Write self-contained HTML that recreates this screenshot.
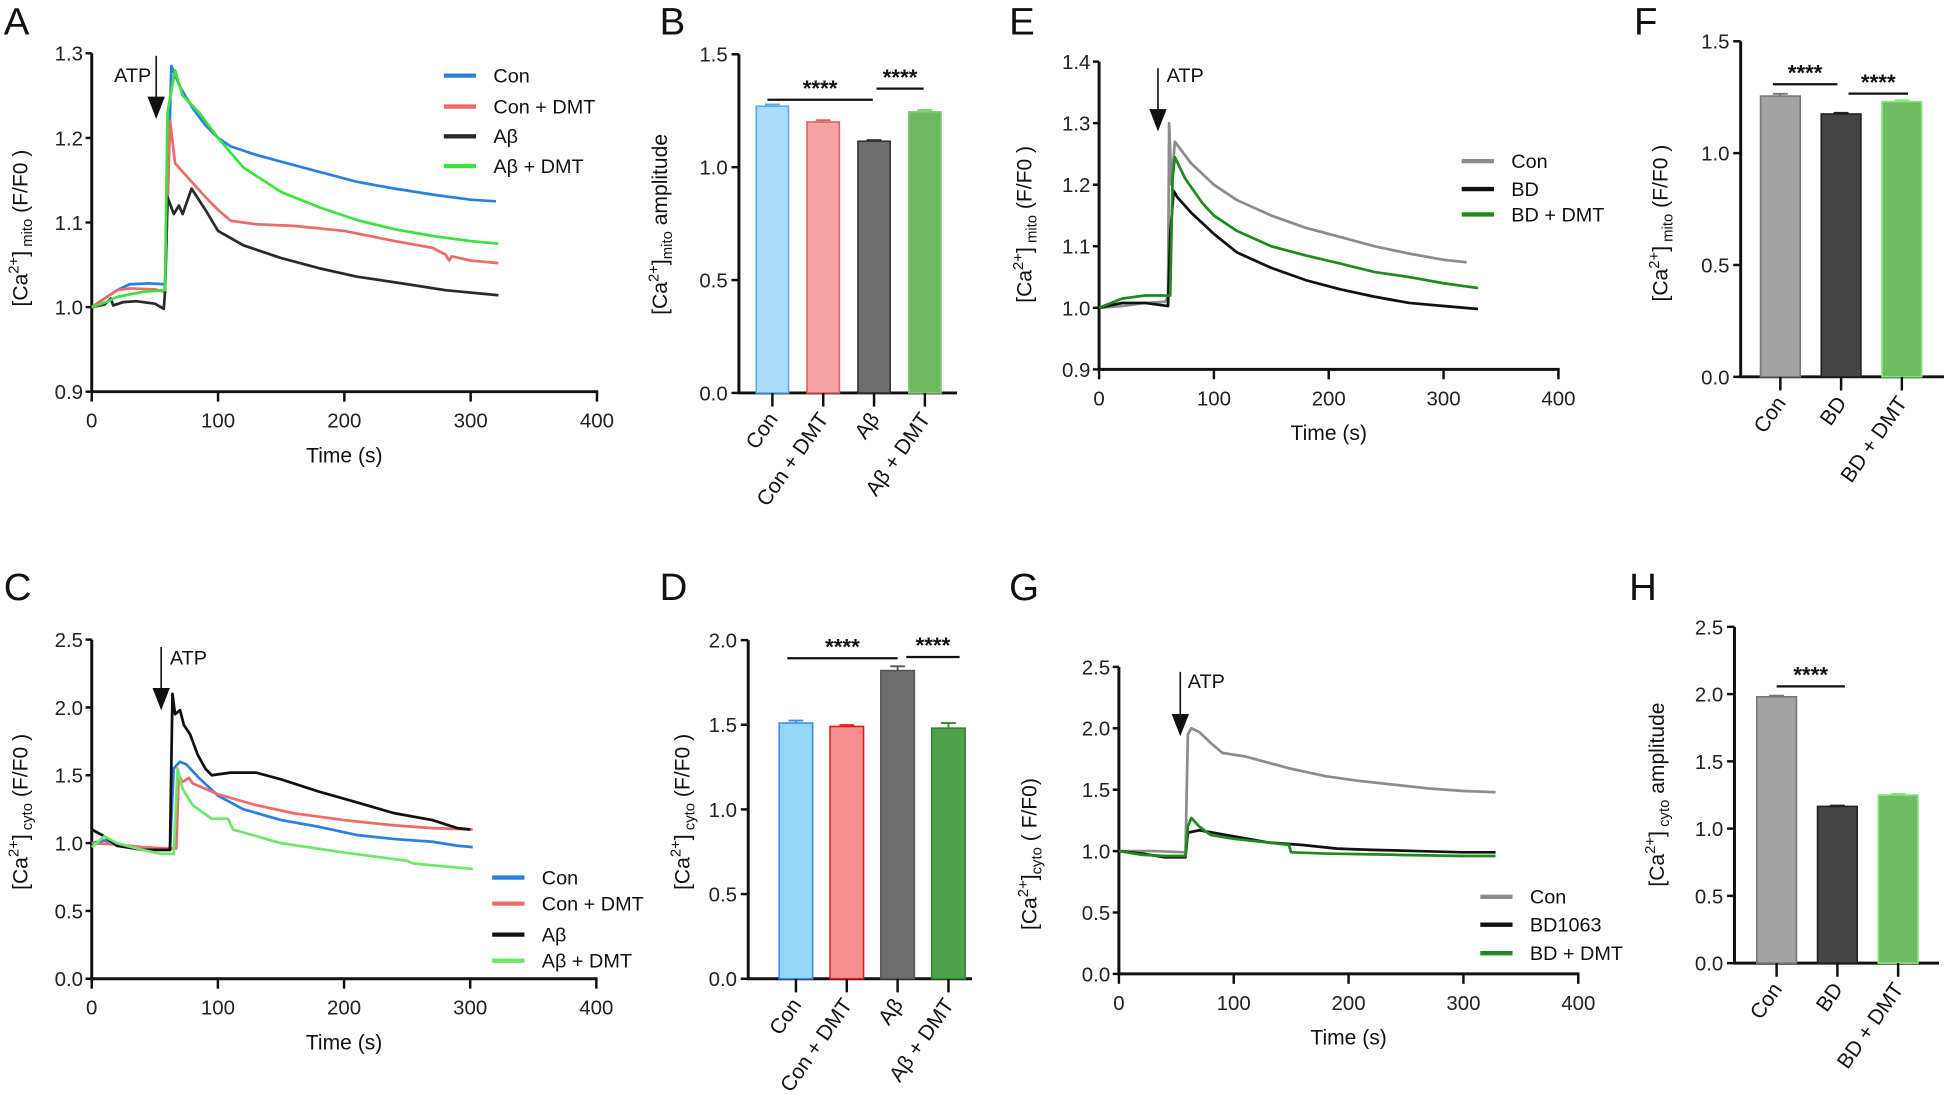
<!DOCTYPE html>
<html><head><meta charset="utf-8">
<style>
html,body{margin:0;padding:0;background:#fff;}
svg{display:block;font-family:"Liberation Sans",Arial,sans-serif;}
</style></head>
<body>
<svg id="fig" xmlns="http://www.w3.org/2000/svg" width="1944" height="1097" viewBox="0 0 1568 885" preserveAspectRatio="none"></svg>
<script>
// ---------- DATA ----------
const aConT=[0,10,20,30,45,58,60,63,70,80,90,100,110,130,150,180,210,240,270,300,320];
const aConV=[1.0,1.01,1.02,1.027,1.028,1.027,1.12,1.285,1.26,1.235,1.215,1.2,1.19,1.18,1.172,1.16,1.148,1.14,1.133,1.127,1.125];
const aConDmtT=[0,10,20,30,50,58,60,62,66,75,90,100,110,130,160,200,240,270,280,283,285,300,322];
const aConDmtV=[1.0,1.01,1.02,1.022,1.021,1.018,1.12,1.22,1.17,1.155,1.13,1.115,1.102,1.098,1.096,1.09,1.078,1.07,1.062,1.055,1.06,1.055,1.052];
const aAbT=[0,10,15,17,25,35,50,57,58,60,65,69,72,79,90,100,120,150,180,210,250,280,322];
const aAbV=[1.0,1.003,1.01,1.002,1.006,1.007,1.004,0.998,1.018,1.13,1.11,1.12,1.11,1.14,1.115,1.09,1.073,1.058,1.046,1.036,1.027,1.02,1.014];
const aAbDmtT=[0,10,20,40,58,60,66,72,85,100,120,150,180,210,240,270,300,322];
const aAbDmtV=[1.0,1.005,1.012,1.018,1.02,1.23,1.28,1.25,1.23,1.2,1.165,1.136,1.118,1.103,1.092,1.084,1.078,1.075];
const bCats=["Con","Con + DMT","Aβ","Aβ + DMT"];
const bVals=[1.27,1.20,1.115,1.245];
const bErr=[0.008,0.008,0.005,0.008];
const cConT=[0,10,30,55,62,65,70,75,85,100,120,150,180,210,240,270,290,302];
const cConV=[1.0,1.02,0.97,0.95,0.95,1.55,1.6,1.58,1.48,1.35,1.25,1.17,1.12,1.06,1.03,1.01,0.98,0.97];
const cConDmtT=[0,20,40,60,67,69,72,77,80,100,130,160,200,240,270,302];
const cConDmtV=[1.0,0.99,0.97,0.96,0.96,1.5,1.45,1.48,1.44,1.36,1.28,1.22,1.17,1.13,1.11,1.1];
const cAbT=[0,10,20,40,62,64,66,70,73,78,84,90,95,110,130,150,180,210,240,270,290,300];
const cAbV=[1.1,1.05,0.98,0.95,0.95,2.1,1.95,1.98,1.87,1.8,1.65,1.55,1.5,1.52,1.52,1.47,1.38,1.3,1.22,1.17,1.11,1.1];
const cAbDmtT=[0,10,20,40,55,65,68,72,80,95,108,112,150,200,250,255,302];
const cAbDmtV=[0.97,1.05,1.0,0.95,0.92,0.92,1.55,1.4,1.28,1.18,1.18,1.1,1.0,0.93,0.87,0.85,0.81];
const dCats=["Con","Con + DMT","Aβ","Aβ + DMT"];
const dVals=[1.51,1.49,1.82,1.48];
const dErr=[0.015,0.008,0.025,0.03];
const eConT=[0,20,40,58,60,61,63,66,80,100,120,150,180,210,240,270,300,320];
const eConV=[1.0,1.003,1.008,1.01,1.02,1.3,1.2,1.27,1.235,1.2,1.175,1.15,1.13,1.115,1.1,1.088,1.078,1.074];
const eBdT=[0,20,40,60,62,65,68,80,100,120,150,180,210,240,270,300,330];
const eBdV=[1.0,1.008,1.008,1.003,1.12,1.19,1.18,1.155,1.12,1.09,1.065,1.045,1.03,1.018,1.008,1.003,0.998];
const eBdDmtT=[0,20,40,60,62,64,66,75,90,100,120,150,180,210,240,270,300,330];
const eBdDmtV=[1.0,1.015,1.02,1.02,1.02,1.21,1.245,1.21,1.17,1.15,1.125,1.1,1.085,1.072,1.058,1.05,1.04,1.032];
const fCats=["Con","BD","BD + DMT"];
const fVals=[1.255,1.175,1.23];
const fErr=[0.01,0.005,0.006];
const gConT=[0,30,58,60,63,70,80,90,110,130,150,180,210,240,270,300,328];
const gConV=[1.0,1.0,0.99,1.95,2.0,1.97,1.88,1.8,1.77,1.72,1.67,1.61,1.57,1.54,1.51,1.49,1.48];
const gBdT=[0,20,40,58,60,70,100,130,160,190,220,260,300,328];
const gBdV=[1.0,0.98,0.95,0.95,1.15,1.17,1.12,1.07,1.05,1.02,1.01,1.0,0.99,0.99];
const gBdDmtT=[0,20,40,58,60,63,70,80,100,130,148,150,180,240,300,328];
const gBdDmtV=[1.0,0.97,0.96,0.96,1.2,1.27,1.2,1.13,1.1,1.07,1.05,0.99,0.98,0.97,0.96,0.96];
const hCats=["Con","BD","BD + DMT"];
const hVals=[1.98,1.165,1.25];
const hErr=[0.008,0.006,0.008];
const xTicks=[0,100,200,300,400];
const ticksA=[0.9,1.0,1.1,1.2,1.3];
const ticksE=[0.9,1.0,1.1,1.2,1.3,1.4];
const ticksC=[0,0.5,1.0,1.5,2.0,2.5];
const ticksB=[0,0.5,1.0,1.5];
const ticksD=[0,0.5,1.0,1.5,2.0];

// ---------- DRAWING ----------
const NS='http://www.w3.org/2000/svg';
const svg=document.getElementById('fig');
function mk(tag,attrs,parent){const e=document.createElementNS(NS,tag);for(const k in attrs)e.setAttribute(k,attrs[k]);(parent||svg).appendChild(e);return e;}
function fmt(v){return v.toFixed(1);}
function ylabel(g,x,y,sub,tail){
  const t=mk('text',{x:x,y:y,'font-size':17,'text-anchor':'middle',transform:'rotate(-90 '+x+' '+y+')',fill:'#111'},g);
  
  
  const a=mk('tspan',{},t);a.textContent='[Ca';
  const b=mk('tspan',{'font-size':12,dy:-7},t);b.textContent='2+';
  const c=mk('tspan',{dy:7},t);c.textContent=']';
  const d=mk('tspan',{'font-size':12,dy:4},t);d.textContent=sub;
  const e=mk('tspan',{dy:-4},t);e.textContent=tail;
}
function letter(ch,x,y){
  const t=mk('text',{x:x,y:y,'font-size':31,fill:'#111'});
  
  
  t.textContent=ch;
}
function linePanel(p){
  const g=mk('g',{});
  
  
  const sx=t=>p.xL+(p.xR-p.xL)*t/400;
  const sy=v=>p.yB-(p.yB-p.yT)*(v-p.ymin)/(p.ymax-p.ymin);
  const ya=mk('line',{x1:p.xL,y1:p.yT,x2:p.xL,y2:p.yB,stroke:'#111','stroke-width':2.4},g);
  
  
  const xa=mk('line',{x1:p.xL-1,y1:p.yB,x2:p.xR+1,y2:p.yB,stroke:'#111','stroke-width':2.4},g);
  
  
  p.yticks.forEach(v=>{
    const y=sy(v);
    const tk=mk('line',{x1:p.xL-5,y1:y,x2:p.xL,y2:y,stroke:'#111','stroke-width':2},g);
    
    
    const tl=mk('text',{x:p.xL-7,y:y+6,'font-size':16.5,'text-anchor':'end',fill:'#222'},g);
    
    
    tl.textContent=fmt(v);
  });
  xTicks.forEach(v=>{
    const x=sx(v);
    const tk=mk('line',{x1:x,y1:p.yB,x2:x,y2:p.yB+8,stroke:'#111','stroke-width':2},g);
    
    
    const tl=mk('text',{x:x,y:p.yB+29,'font-size':16.5,'text-anchor':'middle',fill:'#222'},g);
    
    
    tl.textContent=String(v);
  });
  const xt=mk('text',{x:(p.xL+p.xR)/2,y:p.yB+57,'font-size':17,'text-anchor':'middle',fill:'#111'},g);
  
  
  xt.textContent='Time (s)';
  ylabel(g,p.ylx,p.yly,p.sub,p.tail);
  p.series.forEach((s,i)=>{
    const d=s.t.map((t,j)=>(j?'L':'M')+sx(t).toFixed(1)+' '+sy(s.v[j]).toFixed(1)).join(' ');
    const path=mk('path',{d:d,fill:'none',stroke:s.c,'stroke-width':2.2,'stroke-linejoin':'round'},g);
    
    
    const ly=p.legY[i];
    const ll=mk('line',{x1:p.legX,y1:ly,x2:p.legX+26,y2:ly,stroke:s.c,'stroke-width':3.5},g);
    
    
    const lt=mk('text',{x:p.legX+40,y:ly+5.5,'font-size':16,fill:'#111'},g);
    
    
    lt.textContent=s.name;
  });
  const ar=mk('line',{x1:p.atpX,y1:p.atpY1,x2:p.atpX,y2:p.atpY2-14,stroke:'#111','stroke-width':1.3},g);
  
  
  const ah=mk('polygon',{points:(p.atpX-7)+','+(p.atpY2-18)+' '+(p.atpX+7)+','+(p.atpY2-18)+' '+p.atpX+','+p.atpY2,fill:'#111'},g);
  
  
  const at=mk('text',{x:p.atpTx,y:p.atpTy,'font-size':16,'text-anchor':p.atpAnchor,fill:'#111'},g);
  
  
  at.textContent='ATP';
}
function barPanel(p){
  const g=mk('g',{});
  
  
  const sy=v=>p.yB-(p.yB-p.yT)*v/p.ymax;
  const ya=mk('line',{x1:p.ax,y1:p.yT,x2:p.ax,y2:p.yB,stroke:'#111','stroke-width':2.4},g);
  
  
  const xa=mk('line',{x1:p.ax-1,y1:p.yB,x2:p.xEnd,y2:p.yB,stroke:'#111','stroke-width':2.4},g);
  
  
  p.yticks.forEach(v=>{
    const y=sy(v);
    const tk=mk('line',{x1:p.ax-6,y1:y,x2:p.ax,y2:y,stroke:'#111','stroke-width':2},g);
    
    
    const tl=mk('text',{x:p.ax-9,y:y+6,'font-size':16.5,'text-anchor':'end',fill:'#222'},g);
    
    
    tl.textContent=fmt(v);
  });
  ylabel(g,p.ylx,p.yly,p.sub,p.tail);
  p.cats.forEach((c,i)=>{
    const cx=p.x0+i*p.step, w=p.w, y=sy(p.vals[i]), ye=sy(p.vals[i]+p.err[i]);
    const b=mk('rect',{x:cx-w/2,y:y,width:w,height:p.yB-y,fill:p.fills[i],stroke:p.strokes[i],'stroke-width':1.3},g);
    
    
    const eb=mk('path',{d:'M'+cx+' '+y+' V'+ye+' M'+(cx-6)+' '+ye+' H'+(cx+6),stroke:p.strokes[i],'stroke-width':1.5,fill:'none'},g);
    
    
    const tk=mk('line',{x1:cx,y1:p.yB,x2:cx,y2:p.yB+11,stroke:'#111','stroke-width':2},g);
    
    
    const lx=cx+5, ly=p.yB+21;
    const tl=mk('text',{x:lx,y:ly,'font-size':17,'text-anchor':'end',transform:'rotate(-55 '+lx+' '+ly+')',fill:'#111'},g);
    
    
    tl.textContent=c;
  });
  p.sig.forEach(s=>{
    const l=mk('line',{x1:s[0],y1:s[2],x2:s[1],y2:s[2],stroke:'#111','stroke-width':1.8},g);
    
    
    const t=mk('text',{x:(s[0]+s[1])/2,y:s[2]-3,'font-size':18,'font-weight':'bold','text-anchor':'middle',fill:'#111'},g);
    
    
    t.textContent='****';
  });
}

letter('A',3,28);letter('B',532,28);letter('E',814,28);letter('F',1318,28);
letter('C',3,484);letter('D',532,484);letter('G',814,484);letter('H',1314,484);

linePanel({id:'a',xL:74,xR:481.5,yT:43,yB:316,ymin:0.9,ymax:1.3,yticks:ticksA,ylx:22,yly:184,sub:' mito',tail:' (F/F0 )',
  legX:358,legY:[61,86,110,134],atpX:126,atpY1:45,atpY2:96,atpTx:122,atpTy:66,atpAnchor:'end',
  series:[{key:'con',name:'Con',c:'#2a7fe3',t:aConT,v:aConV},{key:'con-dmt',name:'Con + DMT',c:'#ec6b6b',t:aConDmtT,v:aConDmtV},
          {key:'abeta',name:'Aβ',c:'#2a2a2a',t:aAbT,v:aAbV},{key:'abeta-dmt',name:'Aβ + DMT',c:'#3fe03f',t:aAbDmtT,v:aAbDmtV}]});
linePanel({id:'c',xL:74,xR:481,yT:516,yB:789.6,ymin:0,ymax:2.5,yticks:ticksC,ylx:22,yly:655,sub:' cyto',tail:' (F/F0 )',
  legX:397,legY:[708,729,754,775],atpX:130,atpY1:522,atpY2:573,atpTx:137,atpTy:536,atpAnchor:'start',
  series:[{key:'con',name:'Con',c:'#2a7fe3',t:cConT,v:cConV},{key:'con-dmt',name:'Con + DMT',c:'#ec6b6b',t:cConDmtT,v:cConDmtV},
          {key:'abeta',name:'Aβ',c:'#111',t:cAbT,v:cAbV},{key:'abeta-dmt',name:'Aβ + DMT',c:'#6ee86a',t:cAbDmtT,v:cAbDmtV}]});
linePanel({id:'e',xL:886.5,xR:1257,yT:49.7,yB:298,ymin:0.9,ymax:1.4,yticks:ticksE,ylx:832,yly:181,sub:' mito',tail:' (F/F0 )',
  legX:1179,legY:[130,152.5,173],atpX:934,atpY1:55,atpY2:106,atpTx:941,atpTy:66,atpAnchor:'start',
  series:[{key:'con',name:'Con',c:'#8c8c8c',t:eConT,v:eConV},{key:'bd',name:'BD',c:'#111',t:eBdT,v:eBdV},
          {key:'bd-dmt',name:'BD + DMT',c:'#1f8a1f',t:eBdDmtT,v:eBdDmtV}]});
linePanel({id:'g',xL:902.5,xR:1273,yT:538,yB:785.7,ymin:0,ymax:2.5,yticks:ticksC,ylx:836,yly:689,sub:'cyto',tail:' ( F/F0)',
  legX:1194,legY:[723.5,746,769],atpX:952,atpY1:542,atpY2:594,atpTx:958,atpTy:555,atpAnchor:'start',
  series:[{key:'con',name:'Con',c:'#8c8c8c',t:gConT,v:gConV},{key:'bd1063',name:'BD1063',c:'#111',t:gBdT,v:gBdV},
          {key:'bd-dmt',name:'BD + DMT',c:'#1f8a1f',t:gBdDmtT,v:gBdDmtV}]});

barPanel({id:'b',ax:596,yT:43.8,yB:317,ymax:1.5,yticks:ticksB,xEnd:772,x0:623,step:41,w:26,ylx:538,yly:181,sub:'mito',tail:' amplitude',
  cats:bCats,vals:bVals,err:bErr,fills:['#a8def8','#f7a3a3','#6e6e6e','#6db860'],strokes:['#5aaaf0','#e06060','#333','#7cd070'],
  sig:[[619,704,80.5],[707,745,71.5]]});
barPanel({id:'d',ax:603.5,yT:516.4,yB:789.6,ymax:2.0,yticks:ticksD,xEnd:784,x0:642,step:41,w:27,ylx:556,yly:655,sub:' cyto',tail:' (F/F0 )',
  cats:dCats,vals:dVals,err:dErr,fills:['#96d8fa','#f58e8e','#6e6e6e','#4fa24a'],strokes:['#3a8ee8','#e02020','#555','#2f8a2f'],
  sig:[[635,724,531],[731,774,530]]});
barPanel({id:'f',ax:1404,yT:33.3,yB:304,ymax:1.5,yticks:ticksB,xEnd:1568,x0:1436,step:49,w:32,ylx:1345,yly:180,sub:' mito',tail:' (F/F0 )',
  cats:fCats,vals:fVals,err:fErr,fills:['#a3a3a3','#454545','#6dbb62'],strokes:['#777','#222','#86e878'],
  sig:[[1430,1482,68],[1491,1539,75.5]]});
barPanel({id:'h',ax:1399,yT:505.7,yB:777,ymax:2.5,yticks:ticksC,xEnd:1564,x0:1433,step:49,w:32,ylx:1342,yly:641,sub:' cyto',tail:'  amplitude',
  cats:hCats,vals:hVals,err:hErr,fills:['#a3a3a3','#454545','#6dbb62'],strokes:['#777','#222','#86e878'],
  sig:[[1433,1488,553.7]]});
</script>
</body></html>
